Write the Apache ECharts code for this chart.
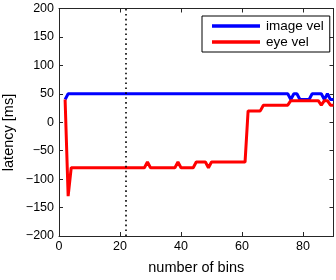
<!DOCTYPE html>
<html>
<head>
<meta charset="utf-8">
<script src="https://cdn.jsdelivr.net/npm/echarts@6/dist/echarts.min.js"></script>
<style>
html,body{margin:0;padding:0;background:#fff;}
#c{width:336px;height:280px;}
</style>
</head>
<body>
<div id="c"></div>
<script>
var bins = [2,3,4,5,6,7,8,9,10,11,12,13,14,15,16,17,18,19,20,21,22,23,24,25,26,27,28,29,30,31,
  32,33,34,35,36,37,38,39,40,41,42,43,44,45,46,47,48,49,50,51,52,53,54,55,56,57,58,59,60,61,
  62,63,64,65,66,67,68,69,70,71,72,73,74,75,76,77,78,79,80,81,82,83,84,85,86,87,88,89,90];
var imageVel = [40,
  50,50,50,50,50,50,50,50,50,50,
  50,50,50,50,50,50,50,50,50,50,
  50,50,50,50,50,50,50,50,50,50,
  50,50,50,50,50,50,50,50,50,50,
  50,50,50,50,50,50,50,50,50,50,
  50,50,50,50,50,50,50,50,50,50,
  50,50,50,50,50,50,50,50,50,50,
  50,50,50,
  40,50,50,40,40,40,40,50,50,50,50,40,50,40,40];
var eyeVel = [40,-130,
  -80,-80,-80,-80,-80,-80,-80,-80,-80,-80,-80,-80,-80,-80,-80,-80,-80,-80,-80,-80,-80,-80,-80,-80,-80,
  -70,
  -80,-80,-80,-80,-80,-80,-80,-80,-80,
  -70,
  -80,-80,-80,-80,-80,
  -70,-70,-70,-70,
  -80,
  -70,-70,-70,-70,-70,-70,-70,-70,-70,-70,-70,-70,
  20,20,20,20,20,
  30,30,30,30,30,30,30,30,30,
  38,38,38,38,38,38,38,38,38,38,
  30,38,38,30,30];
var xTicks = [0,20,40,60,80];
var yTicks = [-200,-150,-100,-50,0,50,100,150,200];
var markerBin = 22;
var seriesNames = ['image vel','eye vel'];

function pairs(xs, ys){ return xs.map(function(x,i){ return [x, ys[i]]; }); }
function fmt(v){ return v < 0 ? '\u2212' + Math.abs(v) : String(v); }

var FONT = 'Liberation Sans, Arial, sans-serif';
var axisCol = '#262626';
var chart = echarts.init(document.getElementById('c'), null, {renderer:'canvas'});
var xBase = {
  type:'value', min:0, max:90, interval:20,
  axisLine:{show:true, onZero:false, lineStyle:{color:axisCol, width:1}},
  axisTick:{show:true, inside:true, length:4, customValues:xTicks, lineStyle:{color:axisCol}},
  splitLine:{show:false}
};
var yBase = {
  type:'value', min:-200, max:200, interval:50,
  axisLine:{show:true, onZero:false, lineStyle:{color:axisCol, width:1}},
  axisTick:{show:true, inside:true, length:4, customValues:yTicks, lineStyle:{color:axisCol}},
  splitLine:{show:false}
};
chart.setOption({
  animation:false,
  grid:{left:59, right:2.5, top:8.5, bottom:41.4, containLabel:false},
  xAxis:[
    Object.assign({}, xBase, {position:'bottom',
      axisLabel:{show:true, customValues:xTicks, margin:4, fontSize:12.5, color:'#000', fontFamily:FONT, formatter:fmt},
      name:'number of bins', nameLocation:'middle', nameGap:24,
      nameTextStyle:{fontSize:14.5, color:'#000', fontFamily:FONT}}),
    Object.assign({}, xBase, {position:'top', axisLabel:{show:false}})
  ],
  yAxis:[
    Object.assign({}, yBase, {position:'left',
      axisLabel:{show:true, customValues:yTicks, margin:5, fontSize:12.5, color:'#000', fontFamily:FONT, formatter:fmt}}),
    Object.assign({}, yBase, {position:'right', axisLabel:{show:false}})
  ],
  legend:{
    show:true, orient:'vertical', left:202, top:16,
    padding:[3,6,3,10], itemGap:2, itemWidth:48, itemHeight:3.5, icon:'rect',
    backgroundColor:'#fff', borderColor:'#000', borderWidth:1, borderRadius:0,
    textStyle:{fontSize:13.5, color:'#000', fontFamily:FONT, lineHeight:14, padding:[0,0,0,1]},
    data:seriesNames
  },
  graphic:[{
    type:'text', x:8.5, y:132.5, rotation:Math.PI/2,
    style:{text:'latency [ms]', fontSize:14.5, fontFamily:FONT, fill:'#000', align:'center', verticalAlign:'middle'}
  }],
  series:[
    {name:seriesNames[0], type:'line', data:pairs(bins, imageVel), symbol:'none', showSymbol:false,
     lineStyle:{color:'#0000ff', width:3}, itemStyle:{color:'#0000ff'}, z:3,
     markLine:{silent:true, symbol:'none', label:{show:false},
       lineStyle:{color:'#000', width:1.6, type:[1.6,3.3]},
       data:[{xAxis:markerBin}]}},
    {name:seriesNames[1], type:'line', data:pairs(bins, eyeVel), symbol:'none', showSymbol:false,
     lineStyle:{color:'#ff0000', width:3}, itemStyle:{color:'#ff0000'}, z:4}
  ]
});
</script>
</body>
</html>
